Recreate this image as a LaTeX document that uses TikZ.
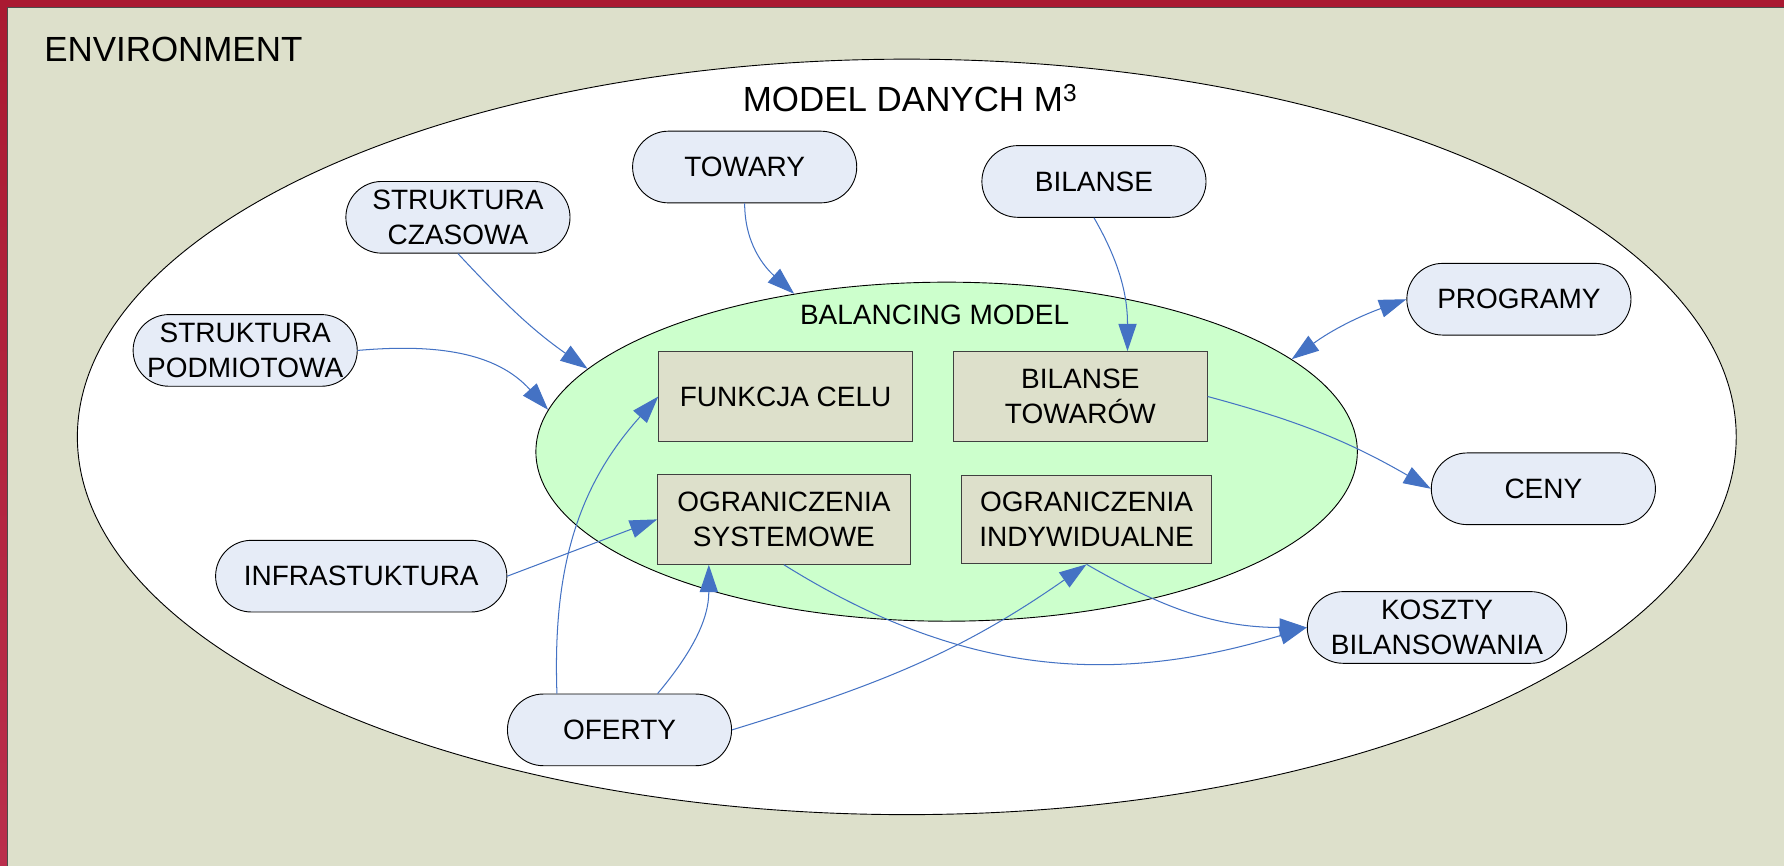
\documentclass[tikz,border=0pt]{standalone}
\usepackage{fontspec}
\setmainfont{Liberation Sans}
\usetikzlibrary{shapes.geometric,arrows.meta}

\definecolor{envback}{RGB}{221,224,203}
\definecolor{envframe}{RGB}{170,25,50}
\definecolor{envframelow}{RGB}{186,46,76}
\definecolor{datafill}{RGB}{230,236,247}
\definecolor{balfill}{RGB}{204,255,204}
\definecolor{linkblue}{RGB}{68,114,196}

\newcommand{\labelfont}{\fontsize{24.6}{30.5}\selectfont}
\newcommand{\titlefont}{\fontsize{30.7}{36}\selectfont}

\tikzset{
  datanode/.style={draw=black, fill=datafill, line width=0.8pt, rounded corners=31.5pt,
    minimum width=197pt, minimum height=63pt, inner sep=2pt, align=center, font=\labelfont},
  modelbox/.style={draw=black!75, fill=envback, line width=0.8pt,
    minimum width=223pt, minimum height=79pt, align=center, font=\labelfont},
  datalink/.style={draw=linkblue, line width=0.9pt, ->},
  >={Triangle[length=24pt,width=16pt]}
}

\begin{document}
\begin{tikzpicture}[x=1pt,y=1pt]
\useasboundingbox (0,0) rectangle (1568,761);

% environment
\fill[envframe] (0,754.5) rectangle (1568,761);
\shade[top color=envframe, bottom color=envframelow] (0,0) rectangle (6.5,761);
\fill[envback] (6.5,0) rectangle (1568,754.5);
\draw[black!70, line width=0.8pt] (6.5,0) -- (6.5,754.5) -- (1568,754.5);
\node[anchor=base west, inner sep=0, font=\titlefont] (envlabel) at (38.7,706.8) {ENVIRONMENT};

% model danych
\node[ellipse, draw=black, fill=white, line width=0.8pt, inner sep=0,
  minimum width=1458pt, minimum height=664pt] (model) at (797,377) {};
\node[anchor=base west, inner sep=0, font=\titlefont] (modellabel) at (652.7,662.8) {MODEL DANYCH M\textsuperscript{3}};

% balancing model
\node[ellipse, draw=black, fill=balfill, line width=0.8pt, inner sep=0,
  minimum width=722pt, minimum height=298pt] (bmodel) at (832,364) {};
\node[anchor=base west, inner sep=0, font=\labelfont] (bmlabel) at (703,475.4) {BALANCING MODEL};

\node[modelbox] (fcelu) at (690.5,412.5) {FUNKCJA CELU};
\node[modelbox] (btow) at (949.5,412.5) {BILANSE\\TOWARÓW};
\node[modelbox, minimum width=222pt] (osys) at (689,304.5) {OGRANICZENIA\\SYSTEMOWE};
\node[modelbox, minimum width=220pt, minimum height=78pt] (oind) at (955,304.4) {OGRANICZENIA\\INDYWIDUALNE};

% data
\node[datanode] (towary) at (654.5,614.2) {TOWARY};
\node[datanode] (bilanse) at (961.5,601.5) {BILANSE};
\node[datanode] (strczas) at (402.5,570) {STRUKTURA\\CZASOWA};
\node[datanode] (strpodm) at (215.5,453) {STRUKTURA\\PODMIOTOWA};
\node[datanode] (programy) at (1335,498) {PROGRAMY};
\node[datanode] (ceny) at (1356.5,331.4) {CENY};
\node[datanode, minimum width=256pt] (infra) at (317.5,254.6) {INFRASTUKTURA};
\node[datanode, minimum width=228pt] (koszty) at (1263,209.5) {KOSZTY\\BILANSOWANIA};
\node[datanode] (oferty) at (544.5,119.5) {OFERTY};

% links
\draw[datalink] (towary.south) to[out=-90,in=138] (bmodel.134);
\draw[datalink] (bilanse.south) to[out=-60,in=90] ([xshift=41.5pt]btow.north);
\draw[datalink] (strczas.south) to[out=-47,in=145] (bmodel.167);
\draw[datalink] (strpodm.east) to[out=5,in=132] (bmodel.174);
\draw[datalink,<->] (bmodel.15) to[out=36,in=200] (programy.west);
\draw[datalink] (btow.east) to[out=-15,in=150] (ceny.west);
\draw[datalink] (infra.east) -- (osys.west);
\draw[datalink] ([xshift=-55pt]oferty.north) to[out=92,in=-132] (fcelu.west);
\draw[datalink] ([xshift=33.5pt]oferty.north) to[out=50,in=-90] ([xshift=-66pt]osys.south);
\draw[datalink] (oferty.east) to[out=17,in=-145] (oind.south);
\draw[datalink] (osys.south) to[out=-32,in=-163] (koszty.west);
\draw[datalink] (oind.south) to[out=-30,in=180] (koszty.west);

\end{tikzpicture}
\end{document}
